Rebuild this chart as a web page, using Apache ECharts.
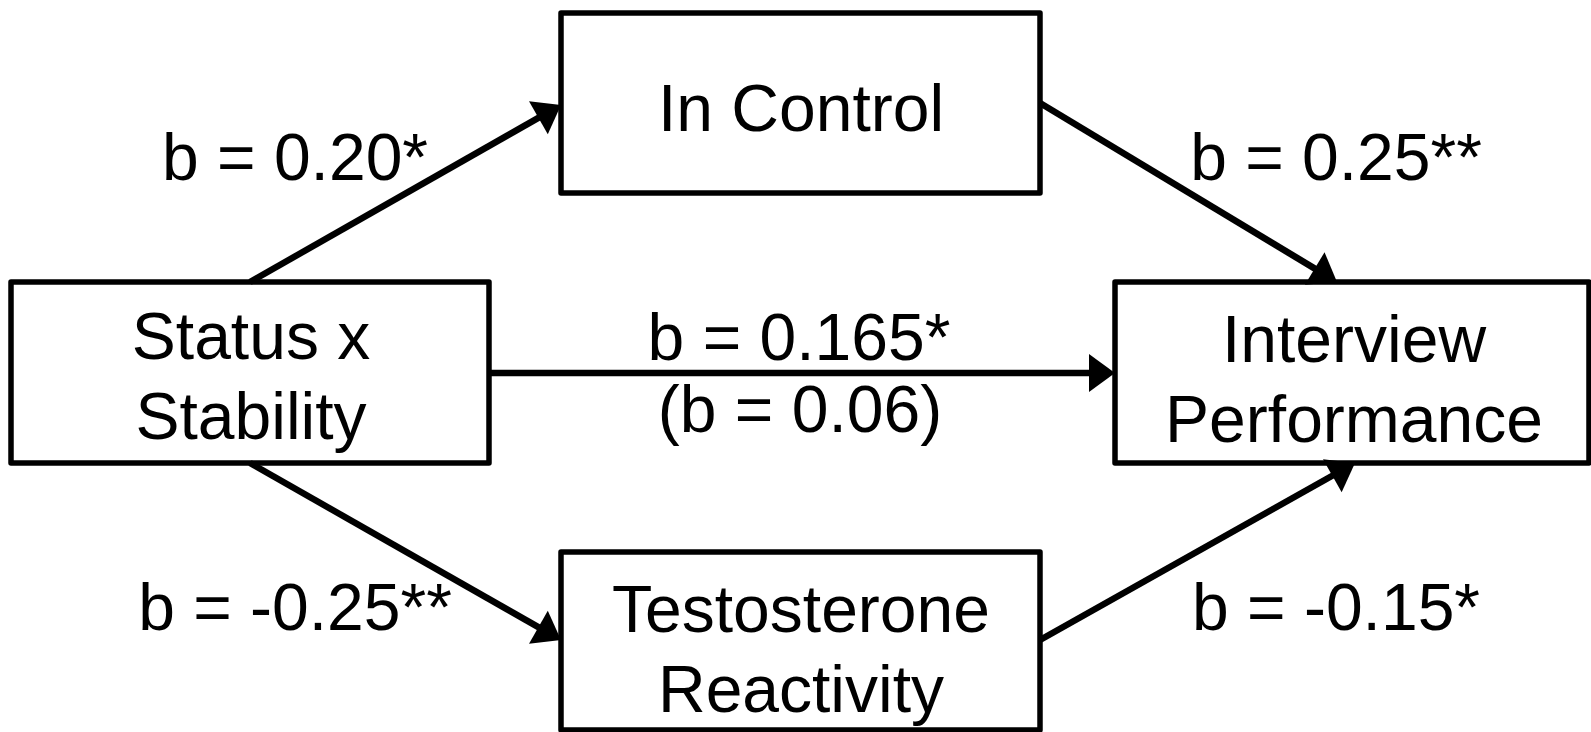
<!DOCTYPE html>
<html>
<head>
<meta charset="utf-8">
<script src="https://cdn.jsdelivr.net/npm/echarts@6/dist/echarts.min.js"></script>
<style>
html,body{margin:0;padding:0;background:#fff;}
#chart{width:1591px;height:732px;}
</style>
</head>
<body>
<div id="chart"></div>
<script>
// ---- data ----
const nodeLabels = ['Status x\nStability', 'In Control', 'Interview\nPerformance', 'Testosterone\nReactivity'];
const pathFrom = [0, 1, 0, 0, 3];
const pathTo = [1, 2, 2, 3, 2];
const pathB = ['0.20', '0.25', '0.165', '-0.25', '-0.15'];
const pathSig = ['*', '**', '*', '**', '*'];
const directB = '0.06';

// ---- layout (diagram space, px units of the 1591x732 canvas) ----
const nodeBox = [[11, 282, 489, 463], [561, 13, 1040, 193], [1115, 282, 1589, 463], [561, 552, 1040, 730]];
const nodeTextY = [381, 113, 384, 654];
const nodeTextX = [251, 801, 1354, 801];
const pathStart = [[250, 282], [1040, 103], [489, 373], [250, 463], [1040, 640]];
const pathEnd = [[561, 105], [1337, 282], [1115, 373], [561, 640], [1355, 463]];
const labelPos = [[295, 162], [1336, 162], [799, 342], [295, 612], [1336, 612]];
const directPos = [800, 414];

const FONT = '"Liberation Sans", Arial, Helvetica, sans-serif';
const FS = 66;

const chart = echarts.init(document.getElementById('chart'), null, {renderer: 'canvas'});

const boxData = nodeLabels.map((l, i) => [nodeBox[i][0], nodeBox[i][1], nodeBox[i][2], nodeBox[i][3], nodeTextX[i], nodeTextY[i], l]);
const edgeData = pathFrom.map((f, i) => [pathStart[i][0], pathStart[i][1], pathEnd[i][0], pathEnd[i][1]]);
const labelData = pathB.map((b, i) => [labelPos[i][0], labelPos[i][1], 'b = ' + b + pathSig[i]]);
labelData.push([directPos[0], directPos[1], '(b = ' + directB + ')']);

chart.setOption({
  animation: false,
  backgroundColor: '#ffffff',
  grid: {left: 0, right: 0, top: 0, bottom: 0},
  xAxis: {type: 'value', min: 0, max: 1591, show: false},
  yAxis: {type: 'value', min: 0, max: 732, inverse: true, show: false},
  series: [
    {
      type: 'custom',
      coordinateSystem: 'cartesian2d',
      silent: true,
      z: 1,
      data: boxData,
      renderItem: function (params, api) {
        const d = boxData[params.dataIndex];
        const p0 = api.coord([d[0], d[1]]);
        const p1 = api.coord([d[2], d[3]]);
        const pt = api.coord([d[4], d[5]]);
        return {
          type: 'group',
          children: [
            {type: 'rect', shape: {x: p0[0], y: p0[1], width: p1[0] - p0[0], height: p1[1] - p0[1]},
             style: {fill: '#fff', stroke: '#000', lineWidth: 5.5, lineJoin: 'round'}},
            {type: 'text', x: pt[0], y: pt[1],
             style: {text: d[6], fill: '#000', font: FS + 'px ' + FONT, align: 'center', verticalAlign: 'middle', lineHeight: 80}}
          ]
        };
      }
    },
    {
      type: 'custom',
      coordinateSystem: 'cartesian2d',
      silent: true,
      z: 2,
      data: edgeData,
      renderItem: function (params, api) {
        const d = edgeData[params.dataIndex];
        const a = api.coord([d[0], d[1]]);
        const b = api.coord([d[2], d[3]]);
        const dx = b[0] - a[0], dy = b[1] - a[1];
        const len = Math.sqrt(dx * dx + dy * dy);
        const ux = dx / len, uy = dy / len;
        const nx = -uy, ny = ux;
        const L = 26, W = 38;
        const bx = b[0] - ux * L, by = b[1] - uy * L;
        return {
          type: 'group',
          children: [
            {type: 'line', shape: {x1: a[0], y1: a[1], x2: bx + ux * 4, y2: by + uy * 4},
             style: {stroke: '#000', lineWidth: 6.5}},
            {type: 'polygon', shape: {points: [[b[0], b[1]], [bx + nx * W / 2, by + ny * W / 2], [bx - nx * W / 2, by - ny * W / 2]]},
             style: {fill: '#000'}}
          ]
        };
      }
    },
    {
      type: 'custom',
      coordinateSystem: 'cartesian2d',
      silent: true,
      z: 3,
      data: labelData,
      renderItem: function (params, api) {
        const d = labelData[params.dataIndex];
        const p = api.coord([d[0], d[1]]);
        return {type: 'text', x: p[0], y: p[1],
          style: {text: d[2], fill: '#000', font: FS + 'px ' + FONT, align: 'center', verticalAlign: 'middle'}};
      }
    }
  ]
});
</script>
</body>
</html>
